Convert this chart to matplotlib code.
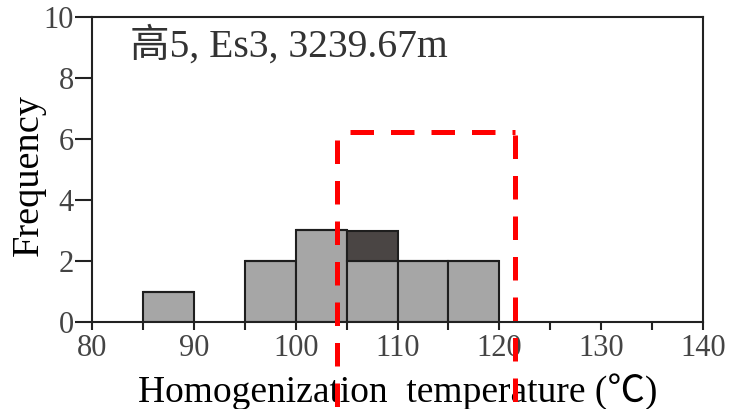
import matplotlib
matplotlib.use("Agg")
import matplotlib.pyplot as plt
import numpy as np

# Histogram bins (lower edges, °C) and counts
bin_left = [85, 95, 100, 105, 110, 115]
light_counts = [1, 2, 3, 2, 2, 2]
dark_counts = [0, 0, 0, 1, 0, 0]
bin_width = 5

# Highlighted temperature window
window_x = [104.1, 121.5]
window_top = 6.23
window_bottom = -2.9

x_ticks = [80, 90, 100, 110, 120, 130, 140]
y_ticks = [0, 2, 4, 6, 8, 10]

serif = ['Liberation Serif', 'Noto Sans CJK SC']
plt.rcParams['font.family'] = serif

fig = plt.figure(figsize=(7.31, 4.09), dpi=100)
ax = fig.add_axes([92/731, 1-322/409, (703-92)/731, (322-17)/409])

ax.bar(bin_left, light_counts, width=bin_width, align='edge',
       color='#a6a6a6', edgecolor='#1e1e1e', linewidth=1.5, zorder=2)
ax.bar(bin_left, dark_counts, width=bin_width, align='edge', bottom=light_counts,
       color='#4a4544', edgecolor='#1e1e1e', linewidth=1.5, zorder=2)

ax.set_xlim(80, 140)
ax.set_ylim(0, 10)
ax.set_xticks(x_ticks)
ax.set_xticks(np.arange(85, 140, 10), minor=True)
ax.set_yticks(y_ticks)

for s in ax.spines.values():
    s.set_linewidth(1.5)
    s.set_color('#222222')

ax.tick_params(axis='x', which='both', direction='out', length=6, width=1.5,
               color='#222222', labelsize=22, labelcolor='#444444', pad=3)
ax.tick_params(axis='y', which='major', direction='out', length=12, width=1.5,
               color='#222222', labelsize=22, labelcolor='#444444', pad=1)

ax.set_xlabel('Homogenization  temperature (℃)', fontsize=27, color='black',
              labelpad=7, family=serif)
ax.set_ylabel('Frequency', fontsize=27.5, color='black', labelpad=-1.5, family=serif)
ax.yaxis.label.set_y(0.483)

ax.text(0.062, 0.905, '高5, Es3, 3239.67m', transform=ax.transAxes,
        fontsize=28.5, color='#333333', va='center', ha='left', family=serif)

# Red dashed window (extends below the axes)
dash = dict(color='#ff0000', linewidth=3.6, dashes=(4.7, 3.4), clip_on=False,
            solid_capstyle='butt', dash_capstyle='butt', zorder=5)
ax.plot([window_x[0], window_x[0]], [window_top - 0.25, window_bottom], **dash)
ax.plot([window_x[1], window_x[1]], [window_top - 0.1, window_bottom], **dash)
ax.plot([window_x[0] + 1.2, window_x[1]], [window_top, window_top], **dash)

fig.savefig('out.png', dpi=100)
